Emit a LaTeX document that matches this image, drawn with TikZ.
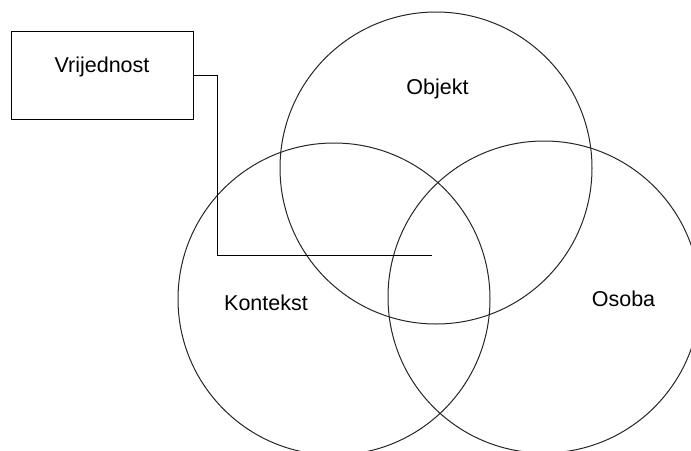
\documentclass[tikz,border=0pt]{standalone}
\usepackage{fontspec}
\setmainfont{Liberation Sans}
\begin{document}
\begin{tikzpicture}[x=1pt,y=-1pt,
  ring/.style={circle,draw=black!85,line width=1pt,minimum size=312pt,inner sep=0pt},
  boxstyle/.style={rectangle,draw=black,line width=1pt,minimum width=182pt,minimum height=88pt,inner sep=0pt},
  lbl/.style={font=\fontsize{21.5}{26}\selectfont,anchor=base,inner sep=0pt},
  wire/.style={draw=black,line width=1pt}]
\useasboundingbox (0,0) rectangle (691,450);
\clip (0,0) rectangle (691,450);
\node[ring] (objekt) at (436,168) {};
\node[ring] (kontekst) at (334,299) {};
\node[ring] (osoba) at (544,297) {};
\node[boxstyle] (box) at (102,75) {};
\node[lbl] (tv) at (102,72.7) {Vrijednost};
\node[lbl] (to) at (437.5,94) {Objekt};
\node[lbl] (tk) at (266,310.7) {Kontekst};
\node[lbl] (ts) at (623.5,306.7) {Osoba};
\coordinate (end) at (432,255.5);
\draw[wire] (box.east) -- ++(24.3,0) |- (end);
\end{tikzpicture}
\end{document}
